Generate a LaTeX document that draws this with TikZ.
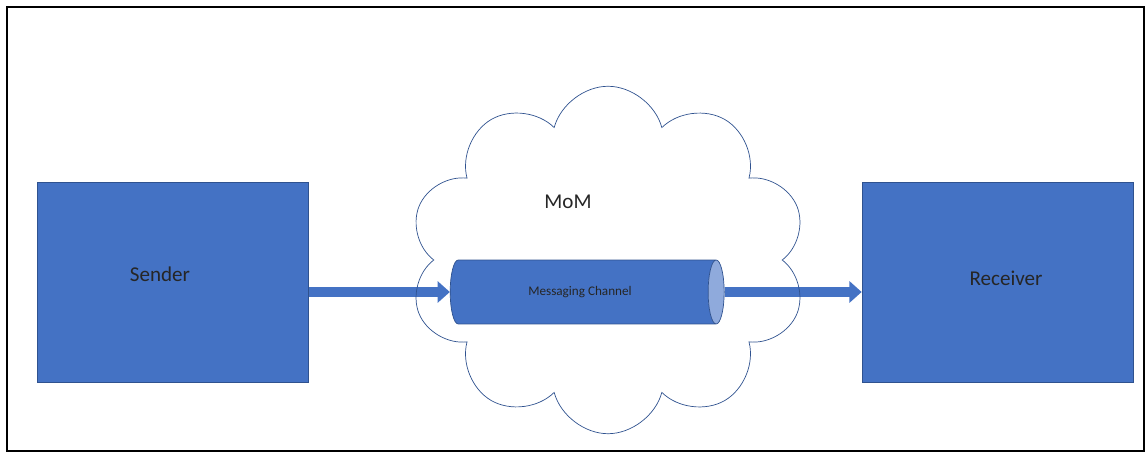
\documentclass[tikz,border=0pt]{standalone}
\usepackage{fontspec}
\setmainfont{Carlito}
\usetikzlibrary{shapes.geometric, shapes.symbols, arrows.meta, backgrounds}

\definecolor{boxblue}{HTML}{4472C4}
\definecolor{edgeblue}{HTML}{2F528F}
\definecolor{endblue}{HTML}{8FAADC}

\tikzset{
    block/.style={rectangle, draw=edgeblue, fill=boxblue, minimum width=5.42cm, minimum height=4cm, inner sep=0pt},
    flow/.style={draw=boxblue, line width=5.6pt, -{Triangle[length=7pt, width=12pt]}},
    label12/.style={font=\fontsize{12}{14}\selectfont, text=black!85}
}

\begin{document}
\begin{tikzpicture}[x=0.02cm, y=-0.02cm]
    \useasboundingbox (0,0) rectangle (1146,452);
    \draw[line width=1.2pt] (7,7) rectangle (1144,451);

    \node[block] (sender) at (172.5,282) {};
    \node[block] (receiver) at (997.5,282.5) {};

    \node[cylinder, shape aspect=0.25, inner xsep=0pt, inner ysep=0.64cm, minimum height=5.48cm,
          draw=edgeblue, cylinder uses custom fill,
          cylinder body fill=boxblue, cylinder end fill=endblue] (channel) at (579,292) {};

    \begin{scope}[on background layer]
        \draw[flow] (sender.east |- channel) -- (channel.west);
        \draw[flow] (channel.east) -- (receiver.west |- channel);
        \node[cloud, cloud puffs=10, cloud ignores aspect, draw=edgeblue, thin,
              minimum width=7.95cm, minimum height=6.95cm] (mom) at (608,260) {};
    \end{scope}

    \node[label12] (sendertxt) at (160,274) {Sender};
    \node[label12] (receivertxt) at (1006,278) {Receiver};
    \node[label12] (momtxt) at (568,202) {MoM};
    \node[font=\fontsize{7.5}{9}\selectfont, text=black!85] (channeltxt) at (580,292) {Messaging Channel};
\end{tikzpicture}
\end{document}
